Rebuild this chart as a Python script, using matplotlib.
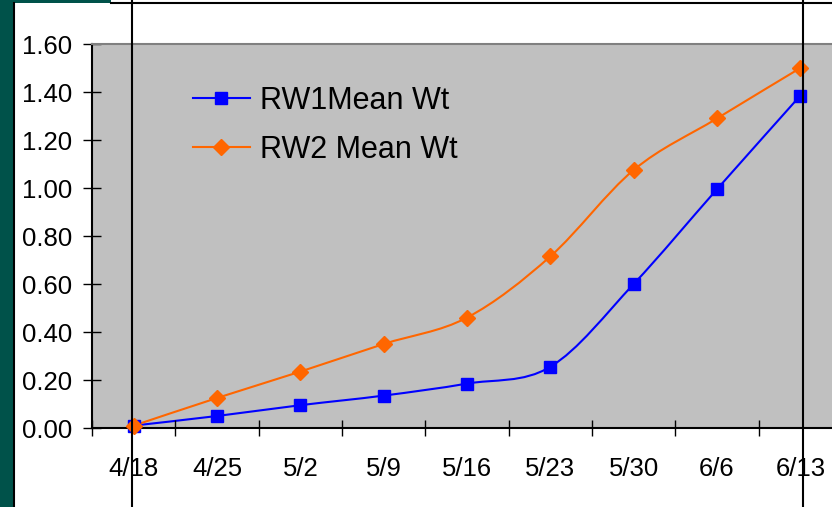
import matplotlib
matplotlib.use("Agg")
import matplotlib.pyplot as plt
from matplotlib.path import Path
from matplotlib.patches import PathPatch, Rectangle
from matplotlib.lines import Line2D

plt.rcParams['font.family'] = ['Liberation Sans', 'DejaVu Sans']

# data
dates = ["4/18", "4/25", "5/2", "5/9", "5/16", "5/23", "5/30", "6/6", "6/13"]
rw1 = [0.01, 0.05, 0.095, 0.135, 0.185, 0.255, 0.60, 0.995, 1.385]
rw2 = [0.01, 0.125, 0.235, 0.35, 0.46, 0.715, 1.075, 1.29, 1.50]
yticks = [0.0, 0.2, 0.4, 0.6, 0.8, 1.0, 1.2, 1.4, 1.6]

blue = "#0000FF"
orange = "#FF6600"


def smooth_path(xs, ys):
    # excel-like smoothed line: bezier segments through every point
    pts = list(zip(xs, ys))
    verts = [pts[0]]
    codes = [Path.MOVETO]
    n = len(pts)
    for i in range(n - 1):
        p0 = pts[i - 1] if i > 0 else pts[i]
        p1 = pts[i]
        p2 = pts[i + 1]
        p3 = pts[i + 2] if i + 2 < n else pts[i + 1]
        c1 = (p1[0] + (p2[0] - p0[0]) / 6, p1[1] + (p2[1] - p0[1]) / 6)
        c2 = (p2[0] - (p3[0] - p1[0]) / 6, p2[1] - (p3[1] - p1[1]) / 6)
        verts += [c1, c2, p2]
        codes += [Path.CURVE4] * 3
    return Path(verts, codes)


fig = plt.figure(figsize=(8.32, 5.07), dpi=100)
fig.patch.set_facecolor("white")

# slide frame bits
fig.add_artist(Rectangle((0, 0), 13 / 832, 1, transform=fig.transFigure,
                         facecolor="#00524A", edgecolor="none"))
fig.add_artist(Rectangle((0, 1 - 2.5 / 507), 111 / 832, 2.5 / 507, transform=fig.transFigure,
                         facecolor="#00524A", edgecolor="none"))
fig.add_artist(Line2D([14 / 832, 14 / 832], [0, 1 - 2.5 / 507], transform=fig.transFigure,
                      color="black", lw=1.5))
fig.add_artist(Line2D([111 / 832, 1], [1 - 3 / 507, 1 - 3 / 507], transform=fig.transFigure,
                      color="black", lw=1.5))

ax = fig.add_axes([92 / 832, 79 / 507, 750 / 832, 384 / 507])
ax.set_facecolor("#C0C0C0")

xs = list(range(len(dates)))
ax.add_patch(PathPatch(smooth_path(xs, rw1), fill=False, edgecolor=blue, lw=1.5))
ax.add_patch(PathPatch(smooth_path(xs, rw2), fill=False, edgecolor=orange, lw=1.5))
ax.plot(xs, rw1, linestyle="none", marker="s", markersize=9, color=blue, clip_on=False, zorder=3)
ax.plot(xs, rw2, linestyle="none", marker="D", markersize=8.5, color=orange, clip_on=False, zorder=3)

ax.set_xlim(-0.5, len(dates) - 0.5)
ax.set_ylim(0, 1.6)

ax.set_xticks([i - 0.5 for i in range(len(dates) + 1)])
ax.set_xticklabels([])
ax.set_xticks(xs, minor=True)
ax.set_xticklabels(dates, minor=True)
ax.tick_params(axis="x", which="major", direction="inout", length=12, width=1, color="black")
ax.tick_params(axis="x", which="minor", length=0, pad=21, labelsize=18.5)

ax.set_yticks(yticks)
ax.set_yticklabels(["%.2f" % v for v in yticks])
ax.tick_params(axis="y", direction="inout", length=13, width=1, pad=8, labelsize=18.5)

ax.spines["top"].set_color("#808080")
ax.spines["top"].set_linewidth(1.5)
ax.spines["right"].set_visible(False)
for s in ["left", "bottom"]:
    ax.spines[s].set_color("black")
    ax.spines[s].set_linewidth(1.5)

handles = [Line2D([], [], color=blue, lw=1.5, marker="s", markersize=9),
           Line2D([], [], color=orange, lw=1.5, marker="D", markersize=8.5)]
fig.legend(handles, ["RW1Mean Wt", "RW2 Mean Wt"], loc="upper left",
           bbox_to_anchor=(193 / 832, 1 - 86 / 507), frameon=False, fontsize=22,
           borderpad=0, borderaxespad=0, handlelength=1.85, handletextpad=0.35,
           labelspacing=0.62)

# vertical lines drawn over the slide
for px in [132, 803]:
    fig.add_artist(Line2D([px / 832, px / 832], [0, 1], transform=fig.transFigure,
                          color="black", lw=1.5, zorder=10))

fig.savefig("out.png", dpi=100)
